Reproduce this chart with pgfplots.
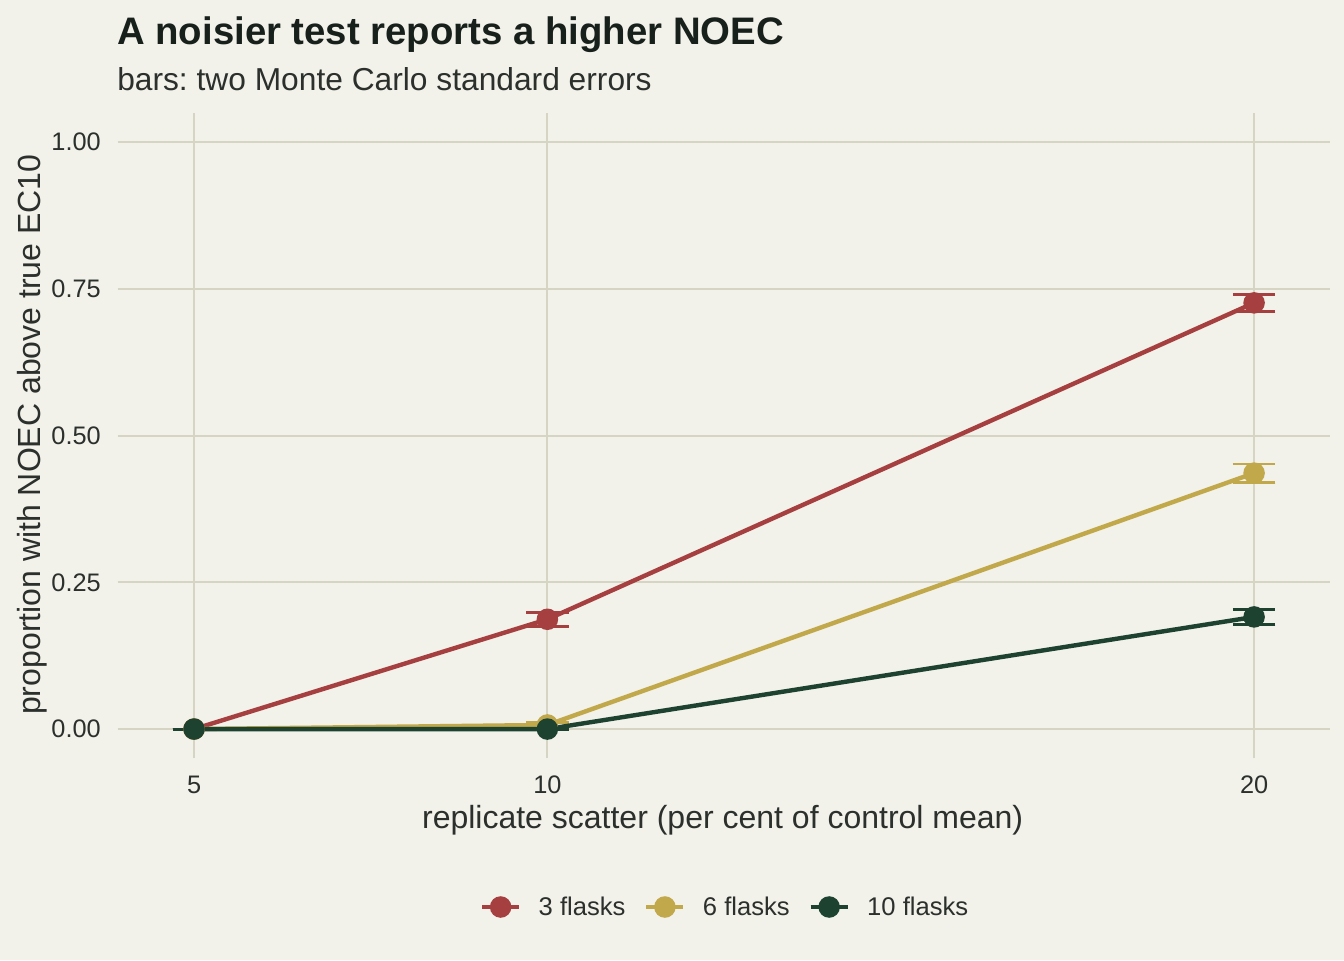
\documentclass[border=0pt]{standalone}
\usepackage{fontspec}
\setmainfont{Liberation Sans}
\usepackage{pgfplots}
\pgfplotsset{compat=1.18}
\frenchspacing
\definecolor{bgc}{HTML}{F2F1EA}
\definecolor{gridc}{HTML}{D6D5C3}
\definecolor{titlec}{HTML}{18201B}
\definecolor{textc}{HTML}{2B302C}
\definecolor{c3}{HTML}{A63F3F}
\definecolor{c6}{HTML}{C1A84A}
\definecolor{c10}{HTML}{1E4230}
\begin{document}
\begin{tikzpicture}
\fill[bgc] (0,0) rectangle (1008pt,-720pt);
\begin{axis}[
  at={(88.3pt,-568.8pt)}, anchor=south west,
  scale only axis, width=909.5pt, height=484.3pt,
  xmin=3.92, xmax=21.08, ymin=-0.05, ymax=1.05,
  xtick={5,10,20}, ytick={0,0.25,0.5,0.75,1},
  /pgf/number format/fixed, /pgf/number format/fixed zerofill,
  /pgf/number format/precision=2,
  xticklabel={\pgfmathprintnumber[precision=0,fixed zerofill=false]{\tick}},
  axis line style={draw=none}, major tick length=0pt,
  grid=major, grid style={color=gridc, line width=1.5pt},
  tick label style={font=\fontsize{19}{23}\selectfont, text=textc, inner sep=0pt},
  /pgf/number format/assume math mode=true,
  yticklabel style={anchor=east, xshift=-12.5pt},
  xticklabel style={anchor=north, yshift=-13.2pt},
  legend columns=3,
  legend style={at={(axis description cs:0.5,-0.2301)}, anchor=center,
    draw=none, fill=none, font=\fontsize{19.2}{23}\selectfont, text=textc,
    nodes={inner sep=0pt},
    /tikz/every odd column/.append style={column sep=13pt},
    /tikz/every even column/.append style={column sep=14pt}},
  legend cell align=left,
  legend image code/.code={\draw[mark repeat=2, mark phase=2, #1]
    plot coordinates {(0pt,0pt) (13.9pt,0pt) (27.8pt,0pt)};},
]
% 3 flasks
\addplot[color=c3, line width=3.3pt, mark=*, mark size=6.4pt,
  mark options={draw=none, fill=c3},
  error bars/.cd, y dir=both, y explicit,
  error bar style={line width=2.2pt, color=c3},
  error mark options={rotate=90, mark size=16pt, line width=2.2pt, color=c3}]
coordinates {
(5,0) +- (0,0)
(10,0.187) +- (0,0.012)
(20,0.726) +- (0,0.015)
};
\addlegendentry{3 flasks}
% 6 flasks
\addplot[color=c6, line width=3.3pt, mark=*, mark size=6.4pt,
  mark options={draw=none, fill=c6},
  error bars/.cd, y dir=both, y explicit,
  error bar style={line width=2.2pt, color=c6},
  error mark options={rotate=90, mark size=16pt, line width=2.2pt, color=c6}]
coordinates {
(5,0) +- (0,0)
(10,0.007) +- (0,0.004)
(20,0.436) +- (0,0.0155)
};
\addlegendentry{6 flasks}
% 10 flasks
\addplot[color=c10, line width=3.3pt, mark=*, mark size=6.4pt,
  mark options={draw=none, fill=c10},
  error bars/.cd, y dir=both, y explicit,
  error bar style={line width=2.2pt, color=c10},
  error mark options={rotate=90, mark size=16pt, line width=2.2pt, color=c10}]
coordinates {
(5,0) +- (0,0)
(10,0) +- (0,0)
(20,0.191) +- (0,0.013)
};
\addlegendentry{10 flasks}
\end{axis}
\node[anchor=base west, inner sep=0pt, text=titlec, font=\bfseries\fontsize{28.75}{34}\selectfont]
  at (87.75pt,-33pt) {A noisier test reports a higher NOEC};
\node[anchor=base west, inner sep=0pt, text=textc, font=\fontsize{23.8}{28}\selectfont]
  at (87.75pt,-68pt) {bars: two Monte Carlo standard errors};
\node[anchor=base, inner sep=0pt, text=textc, font=\fontsize{24}{29}\selectfont]
  at (542pt,-621pt) {replicate scatter (per cent of control mean)};
\node[anchor=center, rotate=90, inner sep=0pt, text=textc, font=\fontsize{24}{29}\selectfont]
  at (24.5pt,-326pt) {proportion with NOEC above true EC10};
\end{tikzpicture}
\end{document}
